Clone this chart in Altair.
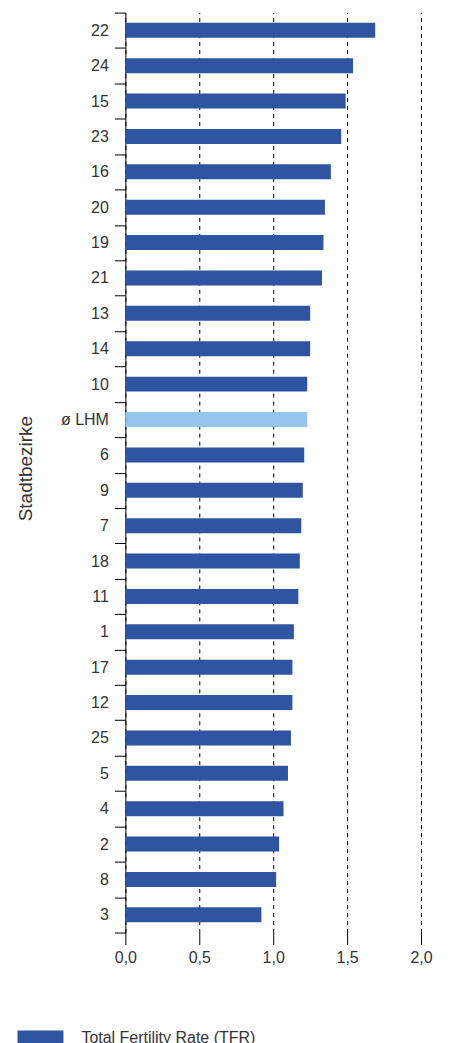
import altair as alt
import pandas as pd

bezirke = ["22", "24", "15", "23", "16", "20", "19", "21", "13", "14", "10", "ø LHM", "6",
           "9", "7", "18", "11", "1", "17", "12", "25", "5", "4", "2", "8", "3"]
tfr = [1.69, 1.54, 1.49, 1.46, 1.39, 1.35, 1.34, 1.33, 1.25, 1.25, 1.23, 1.23, 1.21,
       1.20, 1.19, 1.18, 1.17, 1.14, 1.13, 1.13, 1.12, 1.10, 1.07, 1.04, 1.02, 0.92]
gruppe = ["Total Fertility Rate (TFR)", "Durchschnitt LHM"]
farben = ["#2f54a1", "#93c6ec"]
x_ticks = [0, 0.5, 1.0, 1.5, 2.0]

df = pd.DataFrame({
    "Bezirk": bezirke,
    "TFR": tfr,
    "Gruppe": [gruppe[1] if b == "ø LHM" else gruppe[0] for b in bezirke],
})

chart = alt.Chart(df).mark_bar(size=15).encode(
    x=alt.X(
        "TFR:Q",
        scale=alt.Scale(domain=[0, 2], nice=False, zero=True),
        axis=alt.Axis(
            values=x_ticks,
            labelExpr="replace(format(datum.value, '.1f'), '.', ',')",
            grid=True, gridDash=[4, 4], gridColor="black", gridOpacity=1, gridWidth=1,
            domain=False, tickColor="black", tickSize=12, tickWidth=1,
            labelFlush=False, labelOverlap=False,
            labelPadding=5, labelFontSize=16, labelColor="#333", title=None,
        ),
    ),
    y=alt.Y(
        "Bezirk:N",
        sort=bezirke,
        scale=alt.Scale(paddingInner=0, paddingOuter=0),
        axis=alt.Axis(
            tickBand="extent", tickSize=11, tickColor="black", tickWidth=1,
            domainColor="black", domainWidth=1,
            labelPadding=6, labelFontSize=16, labelColor="#333",
            title="Stadtbezirke", titleFontSize=19, titleFontWeight="normal",
            titleColor="#333", titleAngle=270, titleX=-100, titleY=456,
            titleAlign="center", titleBaseline="middle",
        ),
    ),
    color=alt.Color(
        "Gruppe:N",
        scale=alt.Scale(domain=gruppe, range=farben),
        legend=alt.Legend(
            values=[gruppe[0]], orient="none", legendX=-108, legendY=1004,
            title=None, symbolType="M-1,-0.35H1V0.35H-1Z", symbolSize=2116,
            symbolStrokeWidth=0, symbolOpacity=1, labelFontSize=16, labelColor="#333",
            labelOffset=18, labelLimit=400, padding=0,
        ),
    ),
).properties(
    width=296, height=921,
    padding={"left": 117.5, "top": 4, "right": 20, "bottom": 140},
    autosize="none",
).configure(font="Liberation Sans").configure_view(stroke=None)

chart.save("out.html", embed_options={"renderer": "svg", "actions": False})
